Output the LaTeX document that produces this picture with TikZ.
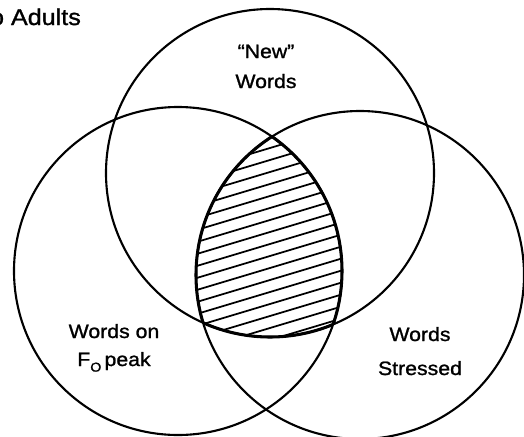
\documentclass[tikz,border=0pt]{standalone}
\usepackage{fontspec}
\newfontfamily\labelfont[FakeStretch=1.1,FakeBold=1.2]{Liberation Sans}
\begin{document}
\begin{tikzpicture}[x=0.03cm,y=-0.03cm,line width=1.8pt,
  lbl/.style={font=\labelfont\fontsize{16.5}{28}\selectfont,align=center,inner sep=0pt}]
 \useasboundingbox (0,0) rectangle (524,436);
 \coordinate (newc) at (270,173);
 \coordinate (peakc) at (178,271);
 \coordinate (stressc) at (360,275);
 \begin{scope}
  \clip (newc) circle[radius=164];
  \clip (peakc) circle[radius=164];
  \clip (stressc) circle[radius=164];
  \foreach \c in {100,112,...,400}
   \draw[line width=1.5pt] (180,\c+27) -- (360,\c-27);
 \end{scope}
 \foreach \a/\b/\d in {newc/peakc/stressc,peakc/newc/stressc,stressc/newc/peakc} {
  \begin{scope}
   \clip (\b) circle[radius=164];
   \clip (\d) circle[radius=164];
   \draw[line width=2.6pt] (\a) circle[radius=164];
  \end{scope}
 }
 \foreach \a in {newc,peakc,stressc}
  \draw (\a) circle[radius=164];
 \node[lbl,anchor=base west] (adults) at (-11,25) {\fontsize{19.5}{20}\selectfont o Adults};
 \node[lbl,anchor=base] (newlbl) at (266,58) {“New”};
 \node[lbl,anchor=base] (newwords) at (266,88) {Words};
 \node[lbl,anchor=base] (onlbl) at (114,338) {Words on};
 \node[lbl,anchor=base] (peaklbl) at (114,366) {F\raisebox{-0.55ex}{\fontsize{11}{11}\selectfont O}\,peak};
 \node[lbl,anchor=base] (wordslbl) at (420,341) {Words};
 \node[lbl,anchor=base] (stresslbl) at (420,375) {Stressed};
\end{tikzpicture}
\end{document}
